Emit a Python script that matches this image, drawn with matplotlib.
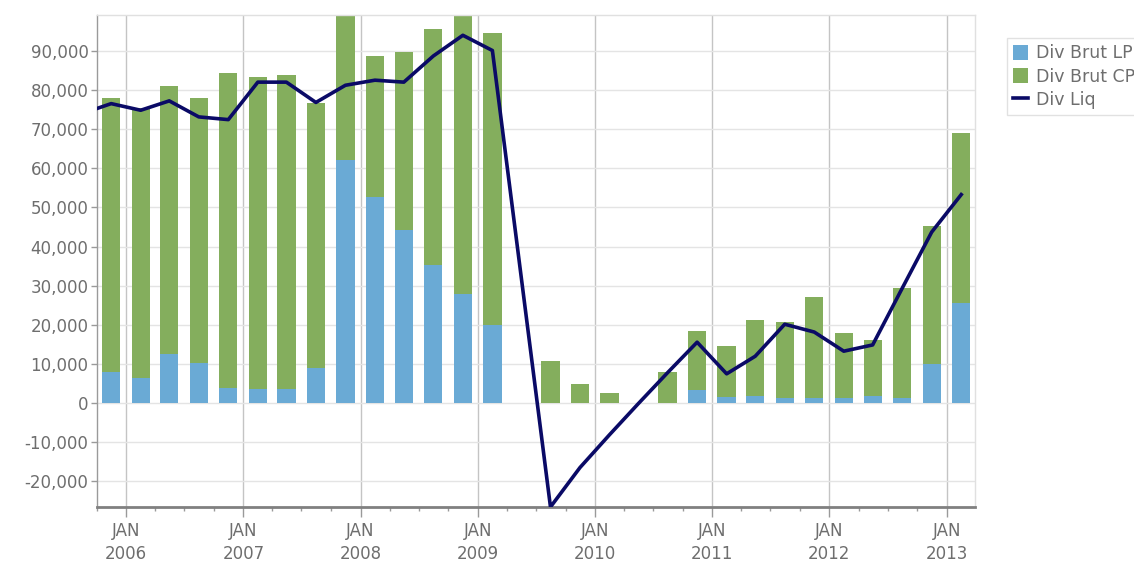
import matplotlib
matplotlib.use("Agg")
import matplotlib.pyplot as plt
import matplotlib.dates as mdates
import matplotlib.ticker as mticker
import numpy as np
import pandas as pd

# Quarterly observation dates (mid-month, one per quarter)
bar_dates = pd.date_range("2005-11-01", periods=30, freq="3MS") + pd.Timedelta(days=14)

# Gross dividends, long-term part (blue) and short-term part (green)
div_brut_lp = [7840, 6400, 12550, 10150, 3750, 3580, 3580, 8970, 62250, 52680,
               44330, 35180, 27930, 19800, 0, 0, 0, 0, 0, 0,
               3150, 1430, 1600, 1200, 1200, 1100, 1600, 1300, 9990, 25520]
div_brut_cp = [70310, 69100, 68490, 68000, 80700, 79840, 80350, 67830, 36850, 36050,
               45420, 60650, 71370, 75000, 0, 10580, 4870, 2460, 0, 7840,
               15200, 12990, 19660, 19450, 25860, 16830, 14360, 28070, 35180, 43550]

# Net dividends (line); one earlier observation precedes the first bar
liq_prev_date = pd.Timestamp("2005-08-15")
liq_prev_value = 74000
div_liq = [76600, 74900, 77300, 73200, 72500, 82100, 82100, 76900, 81300, 82600,
           82100, 88800, 94100, 90200, np.nan, -26700, -16600, -8200, -300, 7700,
           15500, 7400, 11900, 20100, 18100, 13200, 14800, 29300, 43700, 53300]

y_min, y_max = -26700, 99300
y_ticks = list(range(-20000, 100000, 10000))

fig = plt.figure(figsize=(11.34, 5.63), dpi=100)
ax = fig.add_axes([0.0853, 0.0995, 0.7745, 0.8739])

c_lp = "#6AAAD5"
c_cp = "#84AE5D"
c_liq = "#0A0A66"
text_col = "#6E6E6E"

width = 57  # days
b_lp = ax.bar(bar_dates, div_brut_lp, width=width, color=c_lp, label="Div Brut LP", zorder=2)
b_cp = ax.bar(bar_dates, div_brut_cp, width=width, bottom=div_brut_lp, color=c_cp,
              label="Div Brut CP", zorder=2)

liq_dates = [liq_prev_date] + list(bar_dates)
liq_vals = np.array([liq_prev_value] + div_liq, dtype=float)
mask = ~np.isnan(liq_vals)
(l_liq,) = ax.plot(np.array(liq_dates)[mask], liq_vals[mask], color=c_liq, lw=2.6,
                   label="Div Liq", zorder=3, solid_joinstyle="round")

ax.set_xlim(pd.Timestamp("2005-10-01"), pd.Timestamp("2013-03-30"))
ax.set_ylim(y_min, y_max)

# Axes, ticks and grid
ax.set_yticks(y_ticks)
ax.yaxis.set_major_formatter(mticker.FuncFormatter(lambda v, p: f"{int(v):,}"))
ax.xaxis.set_major_locator(mdates.YearLocator())
ax.xaxis.set_major_formatter(mdates.DateFormatter("JAN\n%Y"))
ax.xaxis.set_minor_locator(mdates.MonthLocator(bymonth=[4, 7, 10]))

ax.tick_params(axis="y", length=4, width=1, color="#9A9A9A", labelsize=12,
               labelcolor=text_col, pad=2)
ax.tick_params(axis="x", which="major", length=7, width=1, color="#9A9A9A",
               labelsize=12, labelcolor=text_col, pad=4)
ax.tick_params(axis="x", which="minor", length=3, width=1, color="#9A9A9A")
for lbl in ax.get_xticklabels():
    lbl.set_linespacing(1.35)

ax.grid(axis="y", color="#E4E4E4", lw=1, zorder=0)
ax.grid(axis="x", which="major", color="#C4C4C4", lw=1, zorder=0)
ax.set_axisbelow(True)

for side in ("top", "right"):
    ax.spines[side].set_color("#E0E0E0")
    ax.spines[side].set_linewidth(1)
ax.spines["left"].set_color("#9A9A9A")
ax.spines["left"].set_linewidth(1)
ax.spines["bottom"].set_color("#808080")
ax.spines["bottom"].set_linewidth(2)

leg = fig.legend(handles=[b_lp, b_cp, l_liq],
                 loc="upper left", bbox_to_anchor=(0.8877, 0.932),
                 bbox_transform=fig.transFigure, frameon=True, fancybox=False,
                 fontsize=12.5, handlelength=0.9, handleheight=0.9,
                 handletextpad=0.45, borderpad=0.35, labelspacing=0.3,
                 borderaxespad=0)
leg.get_frame().set_edgecolor("#DADADA")
leg.get_frame().set_linewidth(1)
for t in leg.get_texts():
    t.set_color(text_col)

fig.savefig("out.png", dpi=100)
